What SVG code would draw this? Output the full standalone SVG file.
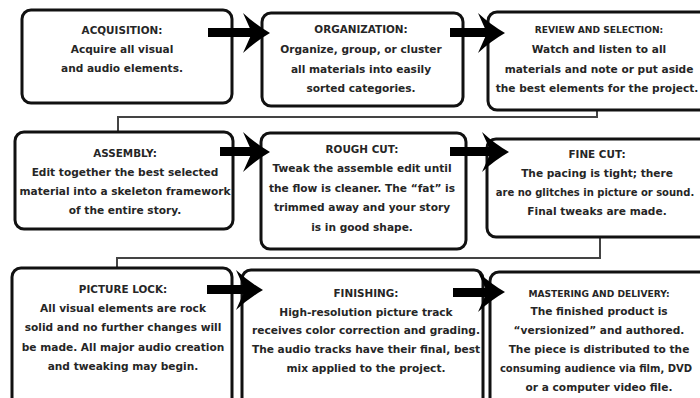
<svg xmlns="http://www.w3.org/2000/svg" width="700" height="398" viewBox="0 0 700 398">
<defs>
<style>
.box{fill:#fff;stroke:#111;stroke-width:3}
.t{font-family:"DejaVu Sans","Liberation Sans",sans-serif;font-weight:700;font-size:10.6px;fill:#262626;text-anchor:middle}
.h{font-size:10.4px}
.hc{font-size:9.1px}
.n{font-size:10px}
.link{fill:none;stroke:#444;stroke-width:2}
.arr{fill:#000}
</style>
<path id="head" d="M-27,-20 Q-14,-8 0,0 Q-14,8 -27,20 L-18,0 Z"/>
</defs>
<rect width="700" height="398" fill="#fff"/>
<g id="connectors">
<path class="link" d="M597,110 V117 H118 V132"/>
<path class="link" d="M600,237 V258 H117 V268"/>
</g>
<g id="n1"><rect class="box" x="22" y="10" width="210" height="93" rx="9"/>
<text class="t"><tspan class="h" x="122" y="34">ACQUISITION:</tspan><tspan x="122" y="53">Acquire all visual</tspan><tspan x="122" y="72">and audio elements.</tspan></text></g>
<g id="n2"><rect class="box" x="262" y="13" width="201" height="93" rx="9"/>
<text class="t"><tspan class="h" x="361" y="33">ORGANIZATION:</tspan><tspan x="361" y="53">Organize, group, or cluster</tspan><tspan x="361" y="73">all materials into easily</tspan><tspan x="361" y="92">sorted categories.</tspan></text></g>
<g id="n3"><rect class="box" x="488" y="12" width="224" height="98" rx="9"/>
<text class="t"><tspan class="hc" x="599" y="33">REVIEW AND SELECTION:</tspan><tspan x="599" y="53">Watch and listen to all</tspan><tspan x="599" y="73">materials and note or put aside</tspan><tspan x="597" y="92">the best elements for the project.</tspan></text></g>
<g id="n4"><rect class="box" x="15" y="132" width="218" height="97" rx="9"/>
<text class="t"><tspan class="h" x="125" y="157">ASSEMBLY:</tspan><tspan x="125" y="176">Edit together the best selected</tspan><tspan x="125" y="195">material into a skeleton framework</tspan><tspan x="125" y="214">of the entire story.</tspan></text></g>
<g id="n5"><rect class="box" x="261" y="133" width="205" height="116" rx="9"/>
<text class="t"><tspan class="h" x="362" y="153">ROUGH CUT:</tspan><tspan x="362" y="172">Tweak the assemble edit until</tspan><tspan x="362" y="192">the flow is cleaner. The “fat” is</tspan><tspan x="362" y="211">trimmed away and your story</tspan><tspan x="362" y="231">is in good shape.</tspan></text></g>
<g id="n6"><rect class="box" x="487" y="139" width="225" height="98" rx="9"/>
<text class="t"><tspan class="h" x="597" y="158">FINE CUT:</tspan><tspan x="597" y="177">The pacing is tight; there</tspan><tspan class="n" x="595" y="196">are no glitches in picture or sound.</tspan><tspan x="597" y="215">Final tweaks are made.</tspan></text></g>
<g id="n7"><rect class="box" x="12" y="268" width="220" height="145" rx="9"/>
<text class="t"><tspan class="h" x="123" y="293">PICTURE LOCK:</tspan><tspan x="123" y="312">All visual elements are rock</tspan><tspan x="123" y="331">solid and no further changes will</tspan><tspan x="123" y="351">be made. All major audio creation</tspan><tspan x="123" y="370">and tweaking may begin.</tspan></text></g>
<g id="n8"><rect class="box" x="242" y="270" width="241" height="145" rx="9"/>
<text class="t"><tspan class="h" x="366" y="297">FINISHING:</tspan><tspan x="366" y="316">High-resolution picture track</tspan><tspan x="366" y="334">receives color correction and grading.</tspan><tspan x="366" y="353">The audio tracks have their final, best</tspan><tspan x="366" y="372">mix applied to the project.</tspan></text></g>
<g id="n9"><rect class="box" x="490" y="272" width="222" height="145" rx="9"/>
<text class="t"><tspan class="hc" x="599" y="297">MASTERING AND DELIVERY:</tspan><tspan x="599" y="315">The finished product is</tspan><tspan x="599" y="334">“versionized” and authored.</tspan><tspan x="599" y="353">The piece is distributed to the</tspan><tspan class="n" x="596" y="372">consuming audience via film, DVD</tspan><tspan x="599" y="391">or a computer video file.</tspan></text></g>
<g id="arrows">
<rect class="arr" x="208" y="28" width="47" height="9"/><use href="#head" class="arr" transform="translate(270,33)"/>
<rect class="arr" x="450" y="28" width="40" height="9"/><use href="#head" class="arr" transform="translate(505,33)"/>
<rect class="arr" x="220" y="147" width="35" height="9"/><use href="#head" class="arr" transform="translate(270,152)"/>
<rect class="arr" x="450" y="147" width="45" height="9"/><use href="#head" class="arr" transform="translate(509,152)"/>
<rect class="arr" x="207" y="285" width="42" height="9"/><use href="#head" class="arr" transform="translate(263,290)"/>
<rect class="arr" x="453" y="288" width="38" height="9"/><use href="#head" class="arr" transform="translate(505,292)"/>
</g>
</svg>
